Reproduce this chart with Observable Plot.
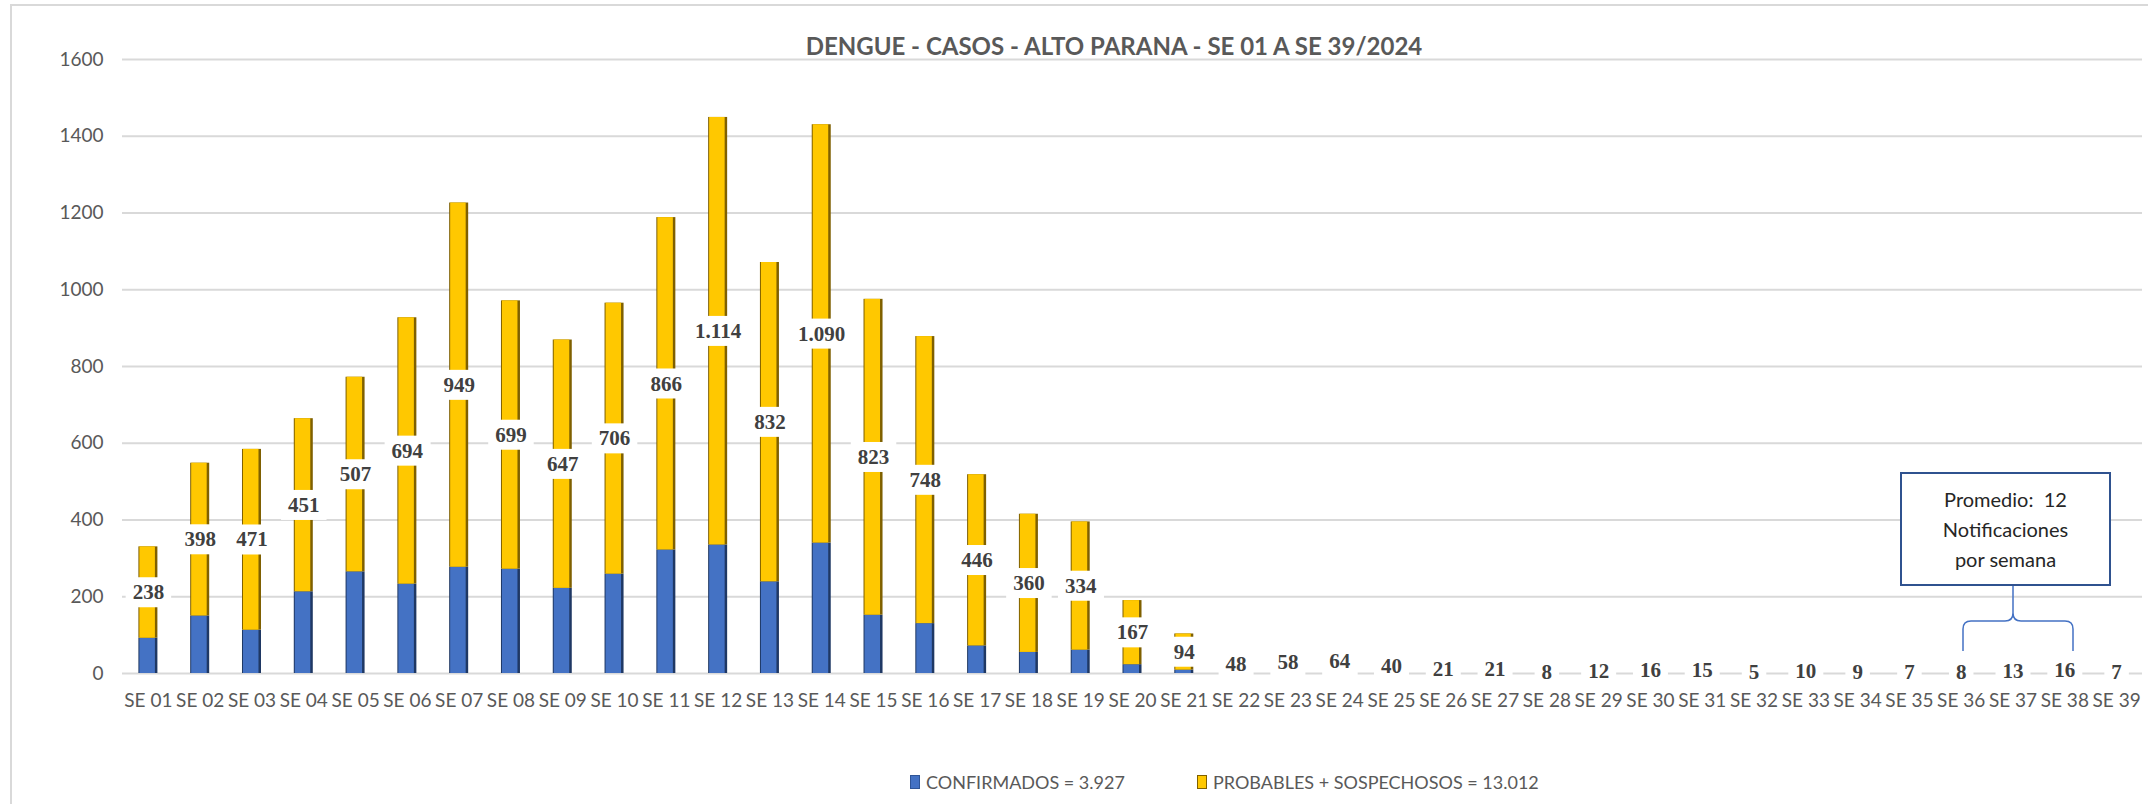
<!DOCTYPE html>
<html>
<head>
<meta charset="utf-8">
<script src="https://cdn.jsdelivr.net/npm/d3@7"></script>
<script src="https://cdn.jsdelivr.net/npm/@observablehq/plot@0.6"></script>
<style>
  body { margin: 0; background: #fff; }
  #wrap { position: relative; width: 2148px; height: 804px; overflow: hidden; font-family: Lato, "Open Sans", sans-serif; background: #fff; }
  #frame { position: absolute; left: 10px; top: 4px; width: 2300px; height: 1000px; border: 2px solid #d9d9d9; box-sizing: border-box; }
  #title { position: absolute; left: 0; top: 31px; width: 2228px; text-align: center; font-size: 24px; line-height: 29px; font-weight: bold; color: #595959; white-space: nowrap; }
  #chart { position: absolute; left: 0; top: 0; }
  #note { position: absolute; left: 1900px; top: 472px; width: 207px; height: 110px; border: 2px solid #2F528F; background: #fff; color: #262626; font-size: 20px; line-height: 30px; display: flex; flex-direction: column; justify-content: center; align-items: center; text-align: center; }
  #brace { position: absolute; left: 0; top: 0; }
  .leg { position: absolute; top: 771px; font-size: 18px; line-height: 22px; color: #595959; white-space: nowrap; display: flex; align-items: center; }
  .sw { display: inline-block; width: 8px; height: 12px; margin-right: 6px; }
</style>
</head>
<body>
<div id="wrap">
  <div id="frame"></div>
  <div id="chart"></div>
  <div id="title">DENGUE - CASOS - ALTO PARANA - SE 01 A SE 39/2024</div>
  <svg id="brace" width="2148" height="804">
    <path d="M2013,586 V613 Q2013,621 2005,621 H1971 Q1963,621 1963,629 V651 M2013,613 Q2013,621 2021,621 H2065 Q2073,621 2073,629 V651" fill="none" stroke="#4472C4" stroke-width="1.5"/>
  </svg>
  <div id="note"><div>Promedio:&nbsp; 12</div><div>Notificaciones</div><div>por semana</div></div>
  <div class="leg" style="left:910px"><span class="sw" style="background:#4472C4;border:1px solid #2F5597"></span><span id="leg1"></span></div>
  <div class="leg" style="left:1197px"><span class="sw" style="background:#FFC800;border:1px solid #7F6000"></span><span id="leg2"></span></div>
</div>
<script>
// ---- data ----
const weeks = ["SE 01","SE 02","SE 03","SE 04","SE 05","SE 06","SE 07","SE 08","SE 09","SE 10",
  "SE 11","SE 12","SE 13","SE 14","SE 15","SE 16","SE 17","SE 18","SE 19","SE 20",
  "SE 21","SE 22","SE 23","SE 24","SE 25","SE 26","SE 27","SE 28","SE 29","SE 30",
  "SE 31","SE 32","SE 33","SE 34","SE 35","SE 36","SE 37","SE 38","SE 39"];
const confirmados = [92,150,113,213,265,233,277,272,222,259,
  322,335,239,340,152,130,72,55,61,23,
  9,0,0,0,0,0,0,0,0,0,
  0,0,0,0,0,0,0,0,0];
const probables = [238,398,471,451,507,694,949,699,647,706,
  866,1114,832,1090,823,748,446,360,334,167,
  94,48,58,64,40,21,21,8,12,16,
  15,5,10,9,7,8,13,16,7];
const yTicks = [0,200,400,600,800,1000,1200,1400,1600];
const totalConfirmados = 3927;
const totalProbables = 13012;
const seriesNames = ["CONFIRMADOS", "PROBABLES + SOSPECHOSOS"];

const loc = d3.formatLocale({decimal: ",", thousands: ".", grouping: [3], currency: ["", ""]});
const fmt = loc.format(",d");

const table = weeks.map((w, i) => ({week: w, c: confirmados[i], p: probables[i]}));

const plot = Plot.plot({
  width: 2148,
  height: 730,
  marginTop: 59,
  marginBottom: 57,
  marginLeft: 122,
  marginRight: 6,
  style: {fontFamily: "Lato, 'Open Sans', sans-serif", color: "#595959", background: "transparent"},
  x: {domain: weeks, paddingInner: 0.633, paddingOuter: 0.3165, label: null},
  y: {domain: [0, 1600], label: null},
  marks: [
    Plot.gridY(yTicks, {stroke: "#d9d9d9", strokeWidth: 2, strokeOpacity: 1}),
    Plot.axisY(yTicks, {tickSize: 0, tickPadding: 19, fontSize: 19, label: null, tickFormat: d => String(d)}),
    Plot.axisX({tickSize: 0, tickPadding: 20, fontSize: 19, label: null}),
    // confirmados
    Plot.barY(table, {x: "week", y1: d => 0, y2: "c", fill: "#1F3864"}),
    Plot.barY(table, {x: "week", y1: d => 0, y2: "c", fill: "#4472C4", insetLeft: 1, insetRight: 2.5}),
    // probables + sospechosos
    Plot.barY(table, {x: "week", y1: "c", y2: d => d.c + d.p, fill: "#7F6000"}),
    Plot.barY(table, {x: "week", y1: "c", y2: d => d.c + d.p, fill: "#FFC800", insetLeft: 1, insetRight: 2.5}),
    // labels
    Plot.text(table, {x: "week", y: d => d.c + d.p / 2, text: d => fmt(d.p),
      fontFamily: "'Liberation Serif', 'DejaVu Serif', serif", fontWeight: "bold", fontSize: 21,
      fill: "#404040", className: "valores"})
  ]
});
document.getElementById("chart").append(plot);

// white boxes behind the value labels
const NS = "http://www.w3.org/2000/svg";
let groups = Array.from(plot.querySelectorAll("g.valores"));
if (!groups.length) groups = Array.from(plot.querySelectorAll('g[aria-label="text"]'));
groups.forEach(lg => {
  Array.from(lg.querySelectorAll("text")).forEach(t => {
    const b = t.getBBox();
    const w = b.width + 14, h = 30;
    const r = document.createElementNS(NS, "rect");
    r.setAttribute("x", b.x + b.width / 2 - w / 2);
    r.setAttribute("y", b.y + b.height / 2 - h / 2);
    r.setAttribute("width", w);
    r.setAttribute("height", h);
    r.setAttribute("fill", "#ffffff");
    r.setAttribute("stroke", "none");
    const tr = t.getAttribute("transform");
    if (tr) r.setAttribute("transform", tr);
    t.parentNode.insertBefore(r, t);
  });
});

document.getElementById("leg1").textContent = seriesNames[0] + " = " + fmt(totalConfirmados);
document.getElementById("leg2").textContent = seriesNames[1] + " = " + fmt(totalProbables);
</script>
</body>
</html>
